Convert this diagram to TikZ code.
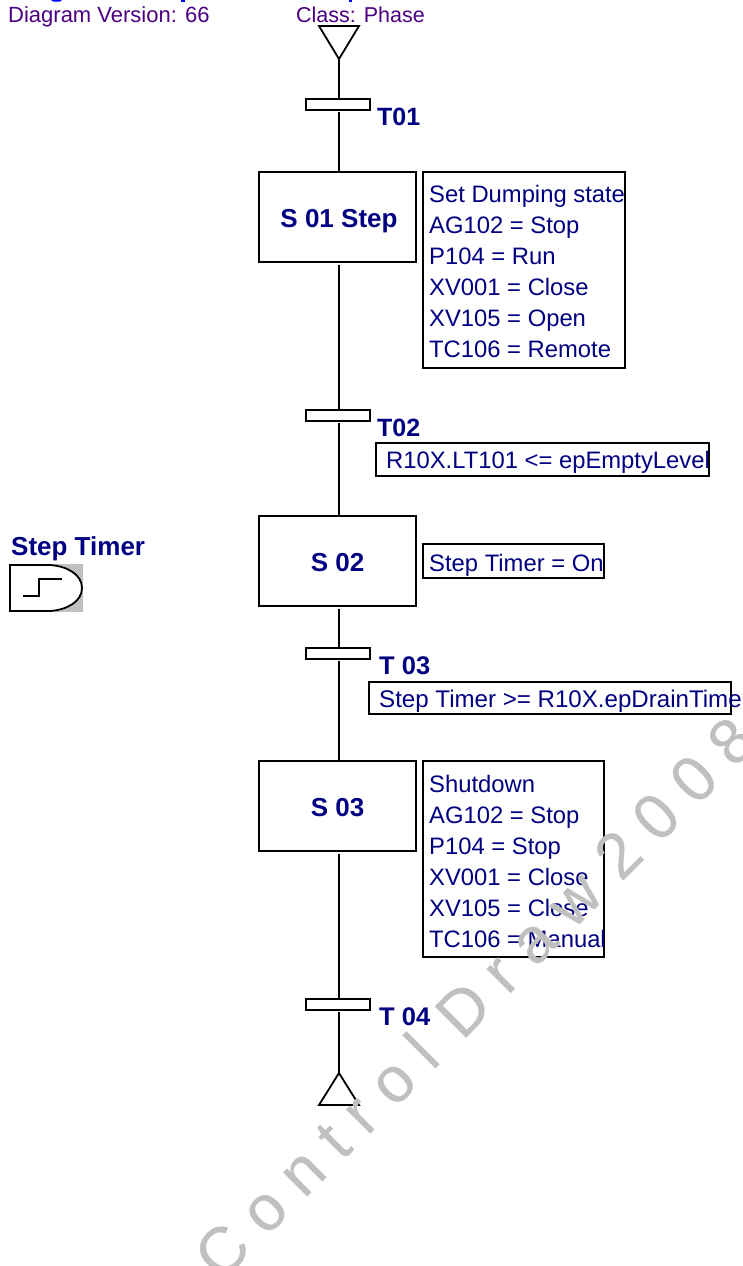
\documentclass[tikz,border=0pt]{standalone}
\usepackage{fontspec}
\setmainfont{Liberation Sans}
\newfontfamily\wmfont[FakeBold=0.35]{Liberation Sans}
\definecolor{labelnavy}{HTML}{000080}
\definecolor{headerviolet}{HTML}{4B0082}
\definecolor{headerblue}{HTML}{0000FF}
\definecolor{markgray}{HTML}{C0C0C0}
\tikzset{
  ln/.style={line width=1.8pt,draw=black},
  stepbox/.style={ln,anchor=north west,inner sep=0pt,outer sep=0pt,minimum width=157pt,minimum height=90pt},
  transbar/.style={ln,anchor=north west,inner sep=0pt,outer sep=0pt,minimum width=64pt,minimum height=11pt,fill=white},
  actbox/.style={ln,anchor=north west,inner sep=0pt,outer sep=0pt},
  boldlabel/.style={anchor=base west,inner sep=0pt,text=labelnavy,font=\fontsize{25.5}{31}\selectfont\bfseries},
  steplabel/.style={anchor=base,inner sep=0pt,text=labelnavy,font=\fontsize{26}{31}\selectfont\bfseries},
  acttext/.style={anchor=base west,inner sep=0pt,text=labelnavy,font=\fontsize{23.8}{31}\selectfont},
  headtext/.style={anchor=base west,inner sep=0pt,text=headerviolet,font=\fontsize{22}{27}\selectfont},
}
\begin{document}
\begin{tikzpicture}[x=1pt,y=-1pt]
\useasboundingbox (0,0) rectangle (743,1266);
\coordinate (spine) at (339,0);
% header
\node[headtext] (hver) at (8,22) {Diagram Version: 66};
\node[headtext,font=\fontsize{21.5}{27}\selectfont] (hcls) at (296,22) {Class: Phase};
\fill[headerblue] (51,0) -- (62,0) -- (60,1.5) -- (53,1.5) -- cycle;
\fill[headerblue] (181,0) rectangle (185,1.5);
\fill[headerblue] (349,0) rectangle (352,1.8);
% steps and transitions
\coordinate (topapex) at (339,59);
\draw[ln,line join=miter] (319,26) -- (359,26) -- (topapex) -- cycle;
\node[transbar] (t1) at (306,99) {};
\node[stepbox] (s1) at (259,172) {};
\node[transbar] (t2) at (306,410) {};
\node[stepbox] (s2) at (259,516) {};
\node[transbar] (t3) at (306,648) {};
\node[stepbox] (s3) at (259,761) {};
\node[transbar] (t4) at (306,999) {};
\coordinate (botapex) at (339,1073);
\draw[ln,line join=miter] (319,1105) -- (359,1105) -- (botapex) -- cycle;
% connectors
\draw[ln] (topapex) -- (t1.north -| spine);
\draw[ln,shorten <=2pt] (t1.south -| spine) -- (s1.north -| spine);
\draw[ln,shorten <=2.5pt] (s1.south -| spine) -- (t2.north -| spine);
\draw[ln,shorten <=2pt] (t2.south -| spine) -- (s2.north -| spine);
\draw[ln,shorten <=2.5pt] (s2.south -| spine) -- (t3.north -| spine);
\draw[ln,shorten <=2pt] (t3.south -| spine) -- (s3.north -| spine);
\draw[ln,shorten <=2.5pt] (s3.south -| spine) -- (t4.north -| spine);
\draw[ln,shorten <=2pt] (t4.south -| spine) -- (botapex);
% step labels
\node[steplabel] (l1) at (339,227) {S 01 Step};
\node[steplabel] (l2) at (337.5,571) {S 02};
\node[steplabel] (l3) at (337.5,816) {S 03};
% transition labels
\node[boldlabel,font=\fontsize{25}{31}\selectfont\bfseries] (lt1) at (377,125) {T01};
\node[boldlabel,font=\fontsize{25}{31}\selectfont\bfseries] (lt2) at (377,436) {T02};
\node[boldlabel] (lt3) at (379,674) {T 03};
\node[boldlabel] (lt4) at (379,1025) {T 04};
% action boxes
\node[actbox,minimum width=202pt,minimum height=196pt] (a1) at (423,172) {};
\node[actbox,minimum width=181pt,minimum height=34pt] (a2) at (423,544) {};
\node[actbox,minimum width=181pt,minimum height=196pt] (a3) at (423,761) {};
\node[actbox,minimum width=333pt,minimum height=33pt] (c2) at (376,443) {};
\node[actbox,minimum width=362pt,minimum height=32pt] (c3) at (369,682) {};
\node[acttext] (a1a) at (429,202) {Set Dumping state};
\node[acttext] (a1b) at (429,233) {AG102 = Stop};
\node[acttext] (a1c) at (429,264) {P104 = Run};
\node[acttext] (a1d) at (429,295) {XV001 = Close};
\node[acttext] (a1e) at (429,326) {XV105 = Open};
\node[acttext] (a1f) at (429,357) {TC106 = Remote};
\node[acttext] (a2a) at (429,571) {Step Timer = On};
\node[acttext] (a3a) at (429,792) {Shutdown};
\node[acttext] (a3b) at (429,823) {AG102 = Stop};
\node[acttext] (a3c) at (429,854) {P104 = Stop};
\node[acttext] (a3d) at (429,885) {XV001 = Close};
\node[acttext] (a3e) at (429,916) {XV105 = Close};
\node[acttext] (a3f) at (429,947) {TC106 = Manual};
\node[acttext] (c2t) at (386,468) {R10X.LT101 <= epEmptyLevel};
\node[acttext,font=\fontsize{24.1}{31}\selectfont] (c3t) at (379,707) {Step Timer >= R10X.epDrainTime};
% step timer
\node[boldlabel,font=\fontsize{26}{31}\selectfont\bfseries] (tim) at (11,555) {Step Timer};
\fill[markgray] (48,564) rectangle (83,612);
\draw[ln,fill=white] (10,565) -- (50,565) .. controls (66,566) and (82,574) .. (82,588) .. controls (82,602) and (66,610) .. (50,611) -- (10,611) -- cycle;
\draw[line width=1.2pt] (23,596) -- (39,596) -- (39,579) -- (62,579);
% watermark
\begin{scope}
\clip (0,0) rectangle (743,1266);
\node[anchor=base west,inner sep=0pt,rotate=45,text=markgray,font=\fontsize{64}{64}\wmfont] (wm) at (221,1282.5)
  {C o n t r o l\hspace{.44em}D r a w\hspace{.34em}2 0 0 8};
\end{scope}
\end{tikzpicture}
\end{document}
